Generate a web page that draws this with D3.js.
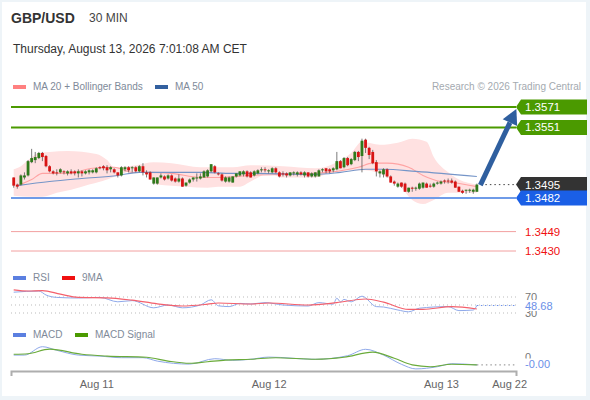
<!DOCTYPE html>
<html><head><meta charset="utf-8">
<script src="https://cdn.jsdelivr.net/npm/d3@7/dist/d3.min.js"></script>
<style>html,body{margin:0;padding:0;background:#fff}svg{display:block}text{font-family:"Liberation Sans",Arial,sans-serif}</style>
</head><body><svg id="c" width="590" height="400"></svg>
<script>
const opens=[1.3502,1.3495,1.3495,1.3502,1.3504,1.3517,1.3519,1.3521,1.3526,1.3523,1.3513,1.3508,1.3507,1.3507,1.3508,1.3506,1.3508,1.3508,1.3506,1.3508,1.3506,1.3507,1.3507,1.3507,1.3512,1.3513,1.3512,1.3510,1.3510,1.3507,1.3504,1.3510,1.3512,1.3511,1.3512,1.3508,1.3513,1.3507,1.3507,1.3496,1.3496,1.3502,1.3503,1.3501,1.3504,1.3501,1.3498,1.3501,1.3494,1.3497,1.3500,1.3501,1.3501,1.3502,1.3503,1.3508,1.3513,1.3506,1.3505,1.3498,1.3498,1.3497,1.3503,1.3504,1.3505,1.3508,1.3507,1.3504,1.3506,1.3509,1.3510,1.3508,1.3507,1.3511,1.3507,1.3506,1.3506,1.3504,1.3506,1.3505,1.3507,1.3504,1.3507,1.3503,1.3503,1.3503,1.3509,1.3511,1.3510,1.3509,1.3510,1.3518,1.3512,1.3521,1.3515,1.3519,1.3527,1.3523,1.3539,1.3531,1.3527,1.3517,1.3506,1.3505,1.3510,1.3503,1.3498,1.3493,1.3497,1.3496,1.3488,1.3492,1.3491,1.3491,1.3492,1.3496,1.3494,1.3493,1.3496,1.3496,1.3499,1.3499,1.3499,1.3498,1.3493,1.3489,1.3489,1.3489,1.3488,1.3488];
const closes=[1.3494,1.3493,1.3504,1.3504,1.3518,1.3521,1.3522,1.3526,1.3522,1.3513,1.3508,1.3506,1.3506,1.3510,1.3507,1.3508,1.3506,1.3506,1.3508,1.3506,1.3508,1.3509,1.3509,1.3511,1.3511,1.3511,1.3509,1.3512,1.3507,1.3504,1.3512,1.3512,1.3509,1.3512,1.3508,1.3513,1.3507,1.3505,1.3500,1.3502,1.3502,1.3504,1.3500,1.3504,1.3499,1.3498,1.3501,1.3493,1.3497,1.3500,1.3502,1.3502,1.3503,1.3508,1.3509,1.3515,1.3507,1.3505,1.3499,1.3502,1.3502,1.3503,1.3506,1.3508,1.3508,1.3503,1.3502,1.3508,1.3509,1.3510,1.3509,1.3509,1.3511,1.3507,1.3503,1.3505,1.3504,1.3507,1.3507,1.3507,1.3505,1.3507,1.3503,1.3506,1.3507,1.3509,1.3510,1.3508,1.3508,1.3511,1.3518,1.3511,1.3521,1.3514,1.3520,1.3527,1.3522,1.3538,1.3531,1.3524,1.3516,1.3508,1.3508,1.3510,1.3503,1.3497,1.3496,1.3496,1.3493,1.3488,1.3492,1.3491,1.3492,1.3496,1.3497,1.3492,1.3493,1.3496,1.3497,1.3498,1.3498,1.3498,1.3497,1.3492,1.3488,1.3487,1.3490,1.3490,1.3490,1.3495];
const highs=[1.3502,1.3496,1.3505,1.3507,1.3519,1.3530,1.3527,1.3527,1.3527,1.3524,1.3514,1.3509,1.3510,1.3511,1.3509,1.3509,1.3510,1.3509,1.3510,1.3509,1.3509,1.3510,1.3510,1.3512,1.3513,1.3514,1.3514,1.3513,1.3511,1.3507,1.3513,1.3513,1.3513,1.3513,1.3513,1.3514,1.3516,1.3509,1.3508,1.3502,1.3502,1.3506,1.3504,1.3505,1.3505,1.3502,1.3505,1.3502,1.3497,1.3501,1.3502,1.3506,1.3506,1.3509,1.3510,1.3515,1.3514,1.3507,1.3506,1.3503,1.3503,1.3503,1.3506,1.3508,1.3509,1.3509,1.3508,1.3509,1.3510,1.3512,1.3512,1.3510,1.3512,1.3512,1.3508,1.3508,1.3507,1.3507,1.3508,1.3508,1.3508,1.3508,1.3507,1.3507,1.3507,1.3510,1.3511,1.3511,1.3511,1.3512,1.3527,1.3519,1.3522,1.3522,1.3521,1.3528,1.3528,1.3540,1.3540,1.3532,1.3529,1.3519,1.3509,1.3511,1.3511,1.3504,1.3499,1.3497,1.3497,1.3497,1.3492,1.3493,1.3493,1.3497,1.3497,1.3497,1.3496,1.3497,1.3498,1.3499,1.3500,1.3501,1.3501,1.3499,1.3493,1.3490,1.3490,1.3491,1.3491,1.3496];
const lows=[1.3492,1.3491,1.3494,1.3500,1.3503,1.3516,1.3516,1.3520,1.3518,1.3512,1.3507,1.3505,1.3504,1.3506,1.3505,1.3504,1.3505,1.3504,1.3502,1.3503,1.3505,1.3505,1.3506,1.3506,1.3510,1.3509,1.3506,1.3507,1.3506,1.3502,1.3503,1.3508,1.3507,1.3507,1.3507,1.3507,1.3504,1.3502,1.3500,1.3495,1.3495,1.3501,1.3499,1.3500,1.3498,1.3497,1.3497,1.3493,1.3493,1.3496,1.3498,1.3498,1.3500,1.3502,1.3502,1.3507,1.3506,1.3504,1.3498,1.3497,1.3497,1.3497,1.3502,1.3503,1.3503,1.3502,1.3502,1.3503,1.3505,1.3507,1.3507,1.3506,1.3506,1.3506,1.3502,1.3503,1.3502,1.3503,1.3504,1.3503,1.3504,1.3502,1.3502,1.3502,1.3502,1.3503,1.3507,1.3506,1.3506,1.3507,1.3509,1.3511,1.3511,1.3513,1.3514,1.3518,1.3518,1.3507,1.3526,1.3520,1.3515,1.3503,1.3502,1.3502,1.3502,1.3497,1.3494,1.3492,1.3492,1.3488,1.3487,1.3488,1.3489,1.3490,1.3491,1.3492,1.3492,1.3492,1.3495,1.3495,1.3496,1.3496,1.3496,1.3492,1.3488,1.3486,1.3486,1.3487,1.3486,1.3488];

const upperIdx=[0,2,4,7,10,15,23,26,28,34,39,44,52,61,66,75,84,90,94,97,102,107,111,115,117,121,124,129];
const upperVals=[1.3510,1.3513,1.3519,1.3526,1.3527,1.3528,1.3525,1.3519,1.3512,1.3514,1.3517,1.3516,1.3512,1.3512,1.3514,1.3513,1.3511,1.3517,1.3526,1.3537,1.3534,1.3536,1.3540,1.3537,1.3522,1.3507,1.3500,1.3495];
const lowerIdx=[0,5,8,12,16,21,26,29,34,37,40,48,54,57,63,66,71,75,84,90,98,103,108,111,114,117,121,125,129];
const lowerVals=[1.3484,1.3483,1.3483,1.3487,1.3490,1.3495,1.3500,1.3504,1.3509,1.3507,1.3495,1.3493,1.3492,1.3493,1.3493,1.3498,1.3506,1.3502,1.3502,1.3509,1.3509,1.3504,1.3492,1.3480,1.3476,1.3480,1.3487,1.3487,1.3487];
const ma20Idx=[1,5,8,15,22,28,33,38,44,52,57,66,84,90,96,100,104,110,114,119,122,129];
const ma20Vals=[1.3494,1.3500,1.3506,1.3506,1.3511,1.3512,1.3507,1.3507,1.3506,1.3502,1.3502,1.3504,1.3506,1.3508,1.3512,1.3516,1.3516,1.3512,1.3504,1.3498,1.3497,1.3493];
const ma50Idx=[1,10,19,29,35,43,52,61,66,84,91,98,103,112,129];
const ma50Vals=[1.3494,1.3498,1.3501,1.3504,1.3507,1.3507,1.3507,1.3506,1.3506,1.3505,1.3507,1.3510,1.3510,1.3508,1.3503];

const rsiIdx=[0,7,9,12,18,24,29,33,39,43,47,52,55,57,60,63,66,70,75,82,85,89,90,91,92,94,97,101,103,107,110,113,121,124,128,129];
const rsiVals=[82,85,75,69,67.5,69,58,61,43,50,43,50,63,48,46,54,52.5,56,50,47.5,56,52,67,58,64,58,72,46,45,37.5,33,42,46,36,37.5,48.68];
const ma9Idx=[0,4,8,13,18,26,33,40,47,54,57,66,71,82,90,98,103,110,114,122,129];
const ma9Vals=[88,85,86,77,69,68,62,53,47.5,52,55,52.5,55,50,56,65,57,39,39,46,40];
const rsiLevels=[70,50,30];

const macdIdx=[0,3,8,12,18,24,30,36,40,49,56,61,66,71,84,93,98,103,108,112,118,122,129];
const macdVals=[0.00047,0.00047,0.00089,0.00071,0.00047,0.00042,0.00034,0.00034,0.00017,0.00002,0.00029,0.00021,0.00026,0.00037,0.00026,0.00044,0.00076,0.00047,0.00001,-0.00022,-0.00011,0.00004,-0.00002];
const sigIdx=[0,4,10,19,26,37,43,49,54,59,66,73,84,92,100,106,111,116,122,129];
const sigVals=[0.00051,0.00054,0.00077,0.00051,0.00042,0.00036,0.00017,0.00006,0.00014,0.00022,0.00026,0.00034,0.00026,0.00036,0.00062,0.00031,-0.00002,-0.00011,0.00001,-0.00002];

const resistances=[1.3571,1.3551];
const supports=[1.3449,1.3430];
const lastPrice=1.3495, pivot=1.3482;
const dateTicks=[23,71,119,138];
const dateLabels=["Aug 11","Aug 12","Aug 13","Aug 22"];

const svg=d3.select("#c");
svg.append("rect").attr("width",590).attr("height",400).attr("fill","#eef4f8");
svg.append("rect").attr("x",2).attr("y",2).attr("width",584).attr("height",394).attr("fill","#fff");

const x=d3.scaleLinear().domain([-0.75,139.9]).range([11,516]);
const y=d3.scaleLinear().domain([1.3430,1.3571]).range([251,107]);
const yR=d3.scaleLinear().domain([30,70]).range([313,297]);
const yM=d3.scaleLinear().domain([0,0.001]).range([364.5,344.5]);

const txt=(s,px,py,size,fill,opt={})=>svg.append("text").attr("x",px).attr("y",py).attr("font-size",size).attr("fill",fill).attr("font-weight",opt.w||null).attr("text-anchor",opt.a||"start").text(s);
const swatch=(px,py,c)=>svg.append("rect").attr("x",px).attr("y",py).attr("width",13).attr("height",4).attr("fill",c);

txt("GBP/USD",11,23,14,"#333",{w:"bold"});
txt("30 MIN",89,22,12,"#444");
txt("Thursday, August 13, 2026 7:01:08 AM CET",13,53,12,"#333");
swatch(13,85,"#ff8080"); txt("MA 20 + Bollinger Bands",33,90,10,"#808a99");
swatch(155,85,"#33609f"); txt("MA 50",175,90,10,"#808a99");
txt("Research © 2026 Trading Central",581,90,10,"#a4aab0",{a:"end"});

const upPts=upperIdx.map((d,i)=>[x(d),y(upperVals[i])]);
const loPts=lowerIdx.map((d,i)=>[x(d),y(lowerVals[i])]).reverse();
const upPath=d3.line().curve(d3.curveMonotoneX)(upPts), loPath=d3.line().curve(d3.curveMonotoneX)(loPts);
svg.append("path").attr("d",upPath+"L"+loPath.slice(1)+"Z").attr("fill","#ffe1e1");

const drawLine=(idx,vals,sc,c,w)=>svg.append("path")
  .attr("d",d3.line().curve(d3.curveMonotoneX)(idx.map((d,i)=>[x(d),sc(vals[i])])))
  .attr("fill","none").attr("stroke",c).attr("stroke-width",w);

drawLine(ma20Idx,ma20Vals,y,"#ffa3a3",1.1);
drawLine(ma50Idx,ma50Vals,y,"#7595c8",1.1);

resistances.forEach(v=>{
  svg.append("line").attr("x1",11).attr("x2",516).attr("y1",y(v)).attr("y2",y(v)).attr("stroke","#4b9a00").attr("stroke-width",2);
});
svg.append("line").attr("x1",11).attr("x2",516).attr("y1",y(pivot)).attr("y2",y(pivot)).attr("stroke","#6f9be8").attr("stroke-width",2);
supports.forEach(v=>{
  svg.append("line").attr("x1",11).attr("x2",516).attr("y1",y(v)).attr("y2",y(v)).attr("stroke","#f2a0a0").attr("stroke-width",1);
  txt(v.toFixed(4),525,y(v)+4,11.5,"#f01010");
});

const gc=svg.append("g");
opens.forEach((o,i)=>{
  const c=closes[i],up=c>=o,col=up?"#2f7a1c":"#d81414";
  gc.append("line").attr("x1",x(i)).attr("x2",x(i)).attr("y1",y(highs[i])).attr("y2",y(lows[i])).attr("stroke","#5a5a5a").attr("stroke-width",0.8);
  gc.append("rect").attr("x",x(i)-1.4).attr("width",2.8).attr("y",y(Math.max(o,c))).attr("height",Math.max(1,Math.abs(y(o)-y(c)))).attr("fill",col);
});

svg.append("line").attr("x1",x(129)+4).attr("x2",516).attr("y1",y(lastPrice)).attr("y2",y(lastPrice)).attr("stroke","#444").attr("stroke-width",1).attr("stroke-dasharray","1.5 3");

const ax0=x(129)+3.5, ay0=y(lastPrice)+0.5, ax1=x(140), ay1=y(resistances[0])+2;
const ang=Math.atan2(ay1-ay0,ax1-ax0);
const bx=ax1-15*Math.cos(ang), by=ay1-15*Math.sin(ang);
svg.append("line").attr("x1",ax0).attr("y1",ay0).attr("x2",bx).attr("y2",by).attr("stroke","#2f5f9f").attr("stroke-width",5);
const nx=-Math.sin(ang),ny=Math.cos(ang);
svg.append("polygon").attr("fill","#2f5f9f").attr("points",[[ax1,ay1],[bx+8*nx,by+8*ny],[bx-8*nx,by-8*ny]].join(" "));

const flag=(v,c)=>{
  const m=y(v),h=7.5;
  svg.append("polygon").attr("fill",c).attr("points",[[516,m],[521,m-h],[587,m-h],[587,m+h],[521,m+h]].join(" "));
  txt(v.toFixed(4),525,m+4,11.5,"#fff");
};
resistances.forEach(v=>flag(v,"#4b9a00"));
flag(lastPrice,"#333333");
flag(pivot,"#1a5fe6");

swatch(13,276,"#5b7fe0"); txt("RSI",33,281,10,"#808a99");
swatch(62,276,"#f01010"); txt("9MA",82,281,10,"#808a99");
rsiLevels.forEach(v=>svg.append("line").attr("x1",11).attr("x2",516).attr("y1",yR(v)).attr("y2",yR(v)).attr("stroke","#bbb").attr("stroke-width",1).attr("stroke-dasharray","1 3"));
drawLine(rsiIdx,rsiVals,yR,"#8fa9ea",1);
drawLine(ma9Idx,ma9Vals,yR,"#f4606c",1.2);
svg.append("line").attr("x1",x(129)).attr("x2",516).attr("y1",yR(48.68)).attr("y2",yR(48.68)).attr("stroke","#6a8fe8").attr("stroke-width",1).attr("stroke-dasharray","1.5 2.5");
[70,30].forEach(v=>txt(String(v),525,yR(v)+4,11,"#777"));
svg.append("rect").attr("x",524).attr("y",yR(48.68)-5.5).attr("width",30).attr("height",11).attr("fill","#fff");
txt("48.68",525,yR(48.68)+4,11,"#6a8fe8");

swatch(13,333,"#5b7fe0"); txt("MACD",33,338,10,"#808a99");
swatch(75,333,"#4b9a00"); txt("MACD Signal",95,338,10,"#808a99");
drawLine(macdIdx,macdVals,yM,"#8fa9ea",1);
drawLine(sigIdx,sigVals,yM,"#6aab3a",1.1);
svg.append("line").attr("x1",x(129)).attr("x2",516).attr("y1",yM(-0.00002)).attr("y2",yM(-0.00002)).attr("stroke","#888").attr("stroke-width",1).attr("stroke-dasharray","1.5 3");
txt("0",525,361,11,"#777");
svg.append("rect").attr("x",524).attr("y",358.5).attr("width",28).attr("height",12).attr("fill","#fff");
txt("-0.00",525,368,11,"#6a8fe8");

const ax=d3.axisBottom(x).tickValues(dateTicks).tickFormat((d,i)=>dateLabels[i]).tickSizeInner(0).tickSizeOuter(5).tickPadding(9);
const gx=svg.append("g").attr("transform","translate(0,371)").call(ax);
gx.select(".domain").attr("stroke","#aeaeae").attr("stroke-width",2);
gx.selectAll("text").attr("font-size",11).attr("fill","#666").attr("font-family","Liberation Sans, Arial, sans-serif");
</script></body></html>
